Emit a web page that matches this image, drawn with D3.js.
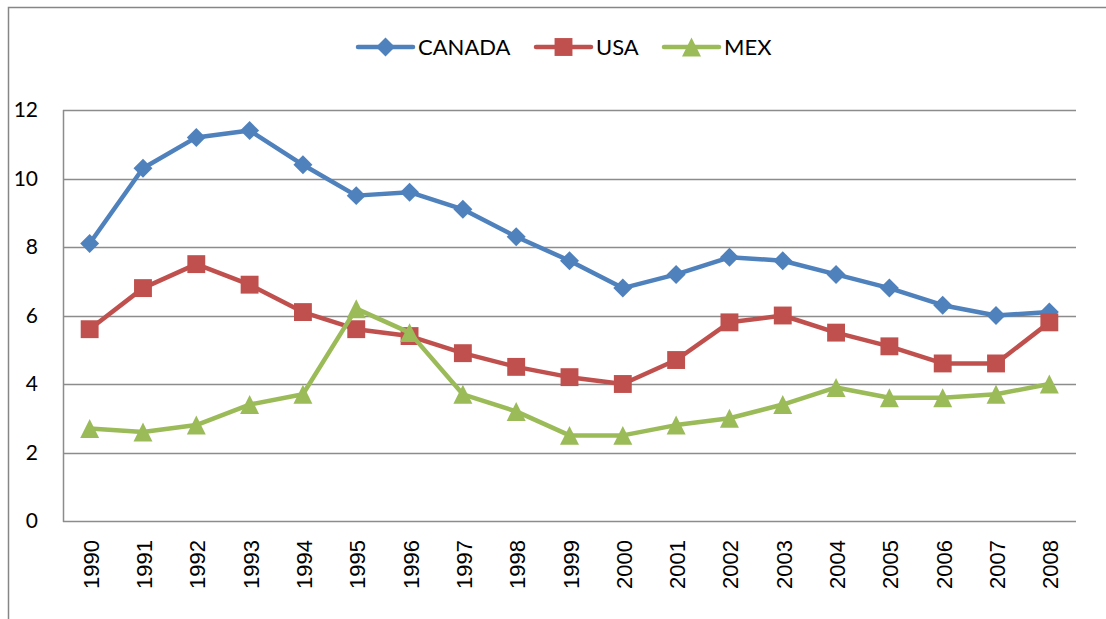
<!DOCTYPE html>
<html>
<head>
<meta charset="utf-8">
<script src="https://cdn.jsdelivr.net/npm/d3@7"></script>
<style>
  body { margin: 0; background: #fff; }
  svg { display: block; }
</style>
</head>
<body>
<svg id="chart"></svg>
<script>
const years = ['1990', '1991', '1992', '1993', '1994', '1995', '1996', '1997', '1998', '1999',
  '2000', '2001', '2002', '2003', '2004', '2005', '2006', '2007', '2008'];
const canada = [8.1, 10.3, 11.2, 11.4, 10.4, 9.5, 9.6, 9.1, 8.3, 7.6, 6.8, 7.2, 7.7, 7.6, 7.2, 6.8, 6.3, 6.0, 6.1];
const usa = [5.6, 6.8, 7.5, 6.9, 6.1, 5.6, 5.4, 4.9, 4.5, 4.2, 4.0, 4.7, 5.8, 6.0, 5.5, 5.1, 4.6, 4.6, 5.8];
const mex = [2.7, 2.6, 2.8, 3.4, 3.7, 6.2, 5.5, 3.7, 3.2, 2.5, 2.5, 2.8, 3.0, 3.4, 3.9, 3.6, 3.6, 3.7, 4.0];
const yTicks = [0, 2, 4, 6, 8, 10, 12];

// excel-style triangle, centred on its box
const boxTriangle = {
  draw(ctx, size) {
    const w = Math.sqrt(size);
    ctx.moveTo(0, -w / 2);
    ctx.lineTo(w / 2, w / 2);
    ctx.lineTo(-w / 2, w / 2);
    ctx.closePath();
  }
};

// diamond = square turned 45deg
const series = [
  {name: 'CANADA', values: canada, color: '#4F81BD', symbol: d3.symbolSquare, size: 180, rot: 45},
  {name: 'USA', values: usa, color: '#C0504D', symbol: d3.symbolSquare, size: 320, rot: 0},
  {name: 'MEX', values: mex, color: '#9BBB59', symbol: boxTriangle, size: 360, rot: 0}
];

const width = 1106;
const height = 619;
const plotLeft = 63, plotRight = 1076, plotTop = 110, plotBottom = 521;

const svg = d3.select('#chart')
  .attr('width', width)
  .attr('height', height);

// outer chart border
svg.append('path')
  .attr('d', `M8.5,${height}V7.5H${width}`)
  .attr('fill', 'none')
  .attr('stroke', '#868686')
  .attr('stroke-width', 1.5);

const xScale = d3.scaleBand()
  .domain(years)
  .range([plotLeft, plotRight]);

const yScale = d3.scaleLinear()
  .domain([0, 12])
  .range([plotBottom, plotTop]);

// gridlines
svg.append('g')
  .selectAll('line')
  .data(yTicks)
  .enter()
  .append('line')
  .attr('x1', plotLeft)
  .attr('x2', plotRight)
  .attr('y1', (d) => Math.round(yScale(d)) + 0.5)
  .attr('y2', (d) => Math.round(yScale(d)) + 0.5)
  .attr('stroke', '#8c8c8c')
  .attr('stroke-width', 1.5);

// left axis line
svg.append('line')
  .attr('x1', plotLeft + 0.5).attr('x2', plotLeft + 0.5)
  .attr('y1', plotTop).attr('y2', plotBottom + 1)
  .attr('stroke', '#8c8c8c')
  .attr('stroke-width', 1.5);

// y labels
svg.append('g')
  .selectAll('text')
  .data(yTicks)
  .enter()
  .append('text')
  .attr('x', 38)
  .attr('y', (d) => yScale(d))
  .attr('dy', '0.35em')
  .attr('text-anchor', 'end')
  .style('font-family', 'Lato, "Open Sans", sans-serif')
  .style('font-size', '21px')
  .text((d) => d);

// x labels
svg.append('g')
  .selectAll('text')
  .data(years)
  .enter()
  .append('text')
  .attr('transform', (d) => `translate(${xScale(d) + xScale.bandwidth() / 2 + 9}, 540) rotate(-90)`)
  .attr('text-anchor', 'end')
  .style('font-family', '"Liberation Sans", Arial, sans-serif')
  .style('font-size', '22px')
  .text((d) => d);

const cx = (i) => xScale(years[i]) + xScale.bandwidth() / 2;

const line = d3.line()
  .x((d, i) => cx(i))
  .y((d) => yScale(d));

series.forEach((s) => {
  svg.append('path')
    .datum(s.values)
    .attr('d', line)
    .attr('fill', 'none')
    .attr('stroke', s.color)
    .attr('stroke-width', 4.5)
    .attr('stroke-linejoin', 'round')
    .attr('stroke-linecap', 'round');

  svg.append('g')
    .selectAll('path')
    .data(s.values)
    .enter()
    .append('path')
    .attr('d', d3.symbol().type(s.symbol).size(s.size))
    .attr('transform', (d, i) => `translate(${cx(i)}, ${yScale(d)}) rotate(${s.rot})`)
    .attr('fill', s.color);
});

// legend
const legendX = [358, 536, 664];
const legend = svg.append('g');
series.forEach((s, i) => {
  const g = legend.append('g').attr('transform', `translate(${legendX[i]}, 47)`);
  g.append('line')
    .attr('x1', 0).attr('x2', 55)
    .attr('stroke', s.color)
    .attr('stroke-width', 4.5)
    .attr('stroke-linecap', 'round');
  g.append('path')
    .attr('d', d3.symbol().type(s.symbol).size(s.size))
    .attr('transform', `translate(27.5, 0) rotate(${s.rot})`)
    .attr('fill', s.color);
  g.append('text')
    .attr('x', 60)
    .attr('dy', '0.35em')
    .style('font-family', 'Lato, "Open Sans", sans-serif')
    .style('font-size', '22px')
    .text(s.name);
});
</script>
</body>
</html>
